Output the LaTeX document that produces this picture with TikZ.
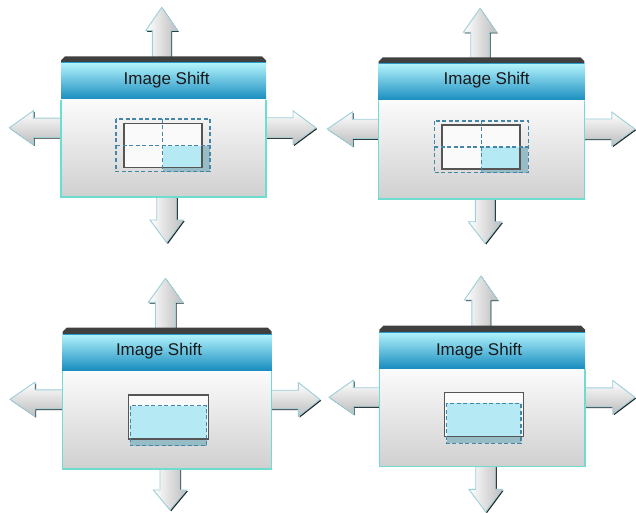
\documentclass[tikz,border=0pt]{standalone}
\usepackage{fontspec}
\setmainfont{Liberation Sans}
\definecolor{hdrtop}{HTML}{B2F3FC}
\definecolor{hdrmid}{HTML}{5EC3E3}
\definecolor{hdrbot}{HTML}{168BBE}
\definecolor{hdrline}{HTML}{2B9BC9}
\definecolor{barc}{HTML}{404040}
\definecolor{bodytop}{HTML}{FBFBFB}
\definecolor{bodybot}{HTML}{D0D0D0}
\definecolor{bodyedge}{HTML}{6EDDCF}
\definecolor{arredge}{HTML}{9DCFD8}
\definecolor{arrgray}{HTML}{BDBDBD}
\definecolor{cellblue}{HTML}{B5E9F3}
\definecolor{celldark}{HTML}{98BCC5}
\definecolor{dashc}{HTML}{4585A8}
\definecolor{framec}{HTML}{555555}
\tikzset{
  arrshadow/.style={fill=black!85, shift={(1.2,1.2)}},
  arrv/.style={draw=arredge, line width=0.9, left color=white, right color=arrgray},
  arrh/.style={draw=arredge, line width=0.9, top color=white, bottom color=arrgray},
  dashline/.style={draw=dashc, line width=1.3, dash pattern=on 4pt off 2.5pt},
  framebox/.style={draw=framec, line width=1.5},
  titletext/.style={font=\fontsize{17}{20}\selectfont, text=black!90, inner sep=0pt}
}
% vertical arrow: #1 centre x, #2 tip y, #3 head half, #4 head base y, #5 shaft half, #6 shaft end y
\newcommand\arrV[6]{%
  \path[arrshadow] (#1,#2) -- (#1+#3,#4) -- (#1+#5,#4) -- (#1+#5,#6) -- (#1-#5,#6) -- (#1-#5,#4) -- (#1-#3,#4) -- cycle;
  \path[arrv] (#1,#2) -- (#1+#3,#4) -- (#1+#5,#4) -- (#1+#5,#6) -- (#1-#5,#6) -- (#1-#5,#4) -- (#1-#3,#4) -- cycle;}
% horizontal arrow: #1 centre y, #2 tip x, #3 head half, #4 head base x, #5 shaft half, #6 shaft end x
\newcommand\arrH[6]{%
  \path[arrshadow] (#2,#1) -- (#4,#1-#3) -- (#4,#1-#5) -- (#6,#1-#5) -- (#6,#1+#5) -- (#4,#1+#5) -- (#4,#1+#3) -- cycle;
  \path[arrh] (#2,#1) -- (#4,#1-#3) -- (#4,#1-#5) -- (#6,#1-#5) -- (#6,#1+#5) -- (#4,#1+#5) -- (#4,#1+#3) -- cycle;}
% panel box: #1 x0, #2 x1, #3 bar top, #4 header bottom, #5 body bottom
\newcommand\panelbox[5]{%
  \fill[barc] (#1,#3+7) -- (#1,#3+4) -- (#1+4,#3) -- (#2-4,#3) -- (#2,#3+4) -- (#2,#3+7) -- cycle;
  \shade[top color=hdrtop, middle color=hdrmid, bottom color=hdrbot] (#1,#3+6.5) rectangle (#2,#4);
  \draw[hdrline, line width=1] (#1,#3+6.5) -- (#2,#3+6.5);
  \shade[top color=bodytop, bottom color=bodybot] (#1,#4) rectangle (#2,#5);
  \draw[bodyedge, line width=1.5] (#1,#4) -- (#1,#5) -- (#2,#5) -- (#2,#4);}
\begin{document}
\begin{tikzpicture}[x=1pt, y=-1pt]
\useasboundingbox (0,0) rectangle (636,513);
% ---------- panel 1 ----------
\arrV{161.7}{7.3}{16}{30.7}{9.3}{60}
\arrH{127.8}{9.3}{17}{33.3}{9.7}{62}
\arrH{127.8}{316}{17}{293}{10}{265}
\arrV{166.7}{242.7}{16.7}{220}{10}{196}
\panelbox{61}{266}{56.5}{100}{197}
\node[titletext] (t1) at (166.7,80) {Image Shift};
\fill[white!98!black] (124,123.3) rectangle (202,167.3);
\fill[cellblue] (162.7,145.7) rectangle (202,167.3);
\fill[celldark] (202,145.7) rectangle (210,171.7);
\fill[celldark] (162.7,167.3) rectangle (202,171.7);
\draw[framebox] (124,123.3) rectangle (202,167.3);
\draw[dashline] (116,119) rectangle (210,171.7);
\draw[dashline] (162.7,119) -- (162.7,171.7);
\draw[dashline] (116,145.7) -- (210,145.7);
% ---------- panel 2 ----------
\arrV{480}{8.3}{16.7}{32.3}{9.3}{60}
\arrH{129}{327.3}{17}{352.3}{9.7}{380}
\arrH{129}{635}{17}{611.7}{10}{583.5}
\arrV{485}{243.3}{16.7}{221.7}{9.7}{198}
\panelbox{378.7}{584.3}{57.3}{101}{199}
\node[titletext] (t2) at (486.7,80.5) {Image Shift};
\fill[white!98!black] (442,125) rectangle (520,169);
\fill[cellblue] (481.3,147) rectangle (520,169);
\fill[celldark] (520,147) rectangle (528.3,172.7);
\fill[celldark] (481.3,169) rectangle (520,172.7);
\draw[framebox] (442,125) rectangle (520,169);
\draw[dashline] (434.3,121) rectangle (528.3,172.7);
\draw[dashline] (481.3,121) -- (481.3,172.7);
\draw[dashline] (434.3,147) -- (528.3,147);
% ---------- panel 3 ----------
\arrV{165.5}{278.3}{17.2}{302.3}{10}{331}
\arrH{399.3}{10}{17.2}{35}{9.5}{64}
\arrH{399.5}{320}{17}{298.3}{9.3}{271}
\arrV{170}{510}{16.7}{490}{10}{468}
\panelbox{62.7}{271.7}{327.7}{371}{469}
\node[titletext] (t3) at (159,351) {Image Shift};
\fill[white!98!black] (128.7,395) rectangle (208.3,439);
\fill[cellblue] (130.3,405.7) rectangle (206.7,439);
\fill[celldark] (130.3,439) rectangle (206.7,445.7);
\draw[framebox] (128.7,395) rectangle (208.3,439);
\draw[dashline] (130.3,405.7) rectangle (206.7,445.7);
% ---------- panel 4 ----------
\arrV{481}{276}{16.7}{300}{9.2}{329}
\arrH{397.2}{329}{17}{353.3}{9.5}{380.5}
\arrH{397.3}{635}{16.8}{612.7}{9.5}{584}
\arrV{485.7}{512}{16.8}{489.3}{10}{466}
\panelbox{379.3}{585}{325.7}{369}{466.7}
\node[titletext] (t4) at (479,351) {Image Shift};
\fill[white!98!black] (444.7,392.7) rectangle (523.3,436.7);
\fill[cellblue] (446.7,403.3) rectangle (521,436.7);
\fill[celldark] (446.7,436.7) rectangle (521,443.3);
\draw[framebox] (444.7,392.7) rectangle (523.3,436.7);
\draw[dashline] (446.7,403.3) rectangle (521,443.3);
\end{tikzpicture}
\end{document}
